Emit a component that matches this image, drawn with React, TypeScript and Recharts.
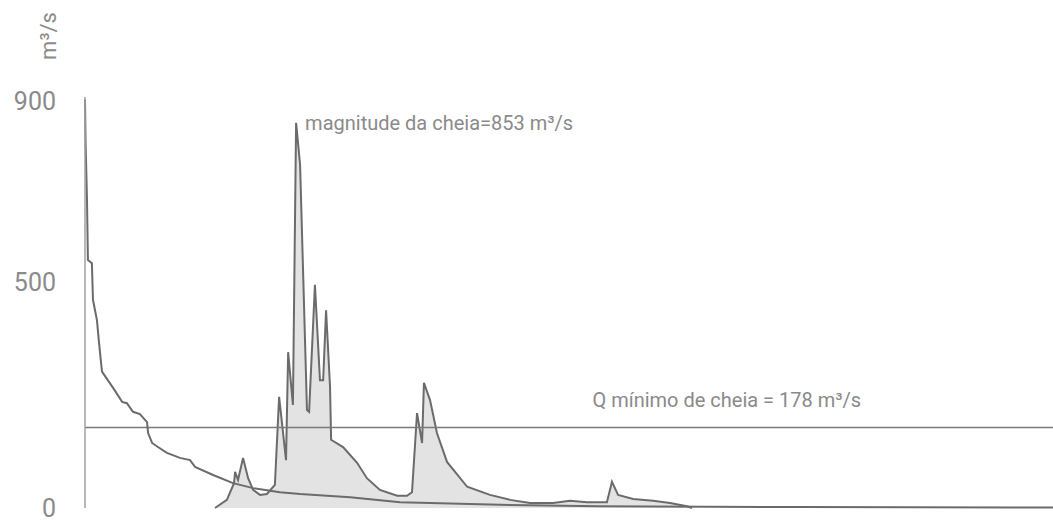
import React from "react";
import {
  ComposedChart,
  Area,
  Line,
  XAxis,
  YAxis,
  ReferenceLine,
  ReferenceDot,
  Label,
} from "recharts";

// hidrograma da cheia (dias, m3/s)
const hidroDias = [
  49.0, 53.5, 56.2, 56.6, 57.7, 59.6, 61.5, 63.4, 66.0, 68.6, 71.6, 73.2, 75.8,
  76.6, 78.4, 79.6, 81.1, 83.7, 84.5, 86.7, 88.6, 89.8, 90.9, 92.4, 92.8, 97.3,
  102.6, 106.3, 111.2, 117.7, 121.4, 123.3, 125.2, 127.1, 127.8, 130.1, 132.7,
  136.5, 144.1, 152.7, 160.3, 167.8, 176.5, 182.9, 189.3, 196.8, 198.7, 201.0,
  206.7, 214.2, 220.6, 227.0, 228.9,
];
const hidroCaudal = [
  0, 18, 55, 80, 62, 111, 66, 40, 29, 31, 51, 246, 106, 345, 228, 853, 760, 217,
  213, 494, 283, 283, 438, 268, 151, 135, 100, 66, 40, 27, 27, 35, 210, 144, 277,
  239, 166, 102, 47, 29, 18, 11, 11, 16, 13, 13, 58, 29, 20, 16, 11, 4, 0,
];

// curva de duração
const duracaoDias = [
  0, 0.2, 0.75, 1.1, 2.6, 3.0, 4.5, 5.3, 6.4, 10.6, 14.0, 15.8, 18.1, 20.7,
  23.4, 23.8, 25.3, 27.5, 30.9, 35.8, 39.6, 41.5, 48.3, 55.8, 63.4, 73.5, 81.1,
  100, 118.8, 156.5, 194, 270, 365,
];
const duracaoCaudal = [
  905, 815, 682, 549, 542, 461, 416, 365, 302, 266, 235, 232, 213, 208, 190, 166,
  144, 135, 122, 111, 106, 91, 73, 55, 44, 35, 31, 24, 13, 7, 4, 2, 1,
];

const qMinimo = 178;
const yTicks = [0, 500, 900];
const posTextoMinimo = 242; // dia onde fica o texto do Q mínimo

const hidrograma = hidroDias.map((d, i) => ({ dia: d, q: hidroCaudal[i] }));
const duracao = duracaoDias.map((d, i) => ({ dia: d, q: duracaoCaudal[i] }));

const pico = Math.max(...hidroCaudal);
const diaPico = hidroDias[hidroCaudal.indexOf(pico)];

const FONT = "Roboto, sans-serif";
const TXT = "#8a8a8a";
const LINHA = "#6b6b6b";

const App = () => {
  return (
    <div style={{ position: "absolute", left: 0, top: 0, background: "#fff" }}>
      <ComposedChart
        width={1053}
        height={525}
        margin={{ top: 97, right: 0, bottom: 17, left: 0 }}
      >
        <XAxis
          type="number"
          dataKey="dia"
          domain={[0, 365]}
          height={0}
          tick={false}
          tickLine={false}
          axisLine={{ stroke: "#8c8c8c", strokeWidth: 1.5 }}
        />
        <YAxis
          type="number"
          domain={[0, 910]}
          ticks={yTicks}
          width={85}
          tickLine={false}
          tickSize={0}
          tickMargin={29}
          axisLine={{ stroke: "#a0a0a0", strokeWidth: 1.5 }}
          tick={{ fontSize: 25, fill: TXT, fontFamily: FONT }}
        >
          <Label
            content={() => (
              <text
                x={48}
                y={36}
                transform="rotate(-90, 48, 36)"
                textAnchor="middle"
                dominantBaseline="central"
                fontSize={22}
                fill={TXT}
                fontFamily={FONT}
              >
                m³/s
              </text>
            )}
          />
        </YAxis>
        <ReferenceLine y={qMinimo} stroke="#7a7a7a" strokeWidth={1.5} />
        <Area
          data={hidrograma}
          dataKey="q"
          type="linear"
          stroke={LINHA}
          strokeWidth={2}
          fill="#e3e3e3"
          fillOpacity={1}
          isAnimationActive={false}
          dot={false}
          activeDot={false}
        />
        <Line
          data={duracao}
          dataKey="q"
          type="linear"
          stroke={LINHA}
          strokeWidth={2}
          dot={false}
          activeDot={false}
          isAnimationActive={false}
        />
        <ReferenceDot
          x={diaPico}
          y={pico}
          r={1}
          fill="none"
          stroke="none"
        >
          <Label
            value={`magnitude da cheia=${pico} m³/s`}
            position="right"
            offset={8}
            fontSize={20}
            fill={TXT}
            fontFamily={FONT}
          />
        </ReferenceDot>
        <ReferenceDot
          x={posTextoMinimo}
          y={qMinimo}
          r={1}
          fill="none"
          stroke="none"
        >
          <Label
            value={`Q mínimo de cheia = ${qMinimo} m³/s`}
            position="top"
            offset={20}
            fontSize={20}
            fill={TXT}
            fontFamily={FONT}
          />
        </ReferenceDot>
      </ComposedChart>
    </div>
  );
};

export default App;
